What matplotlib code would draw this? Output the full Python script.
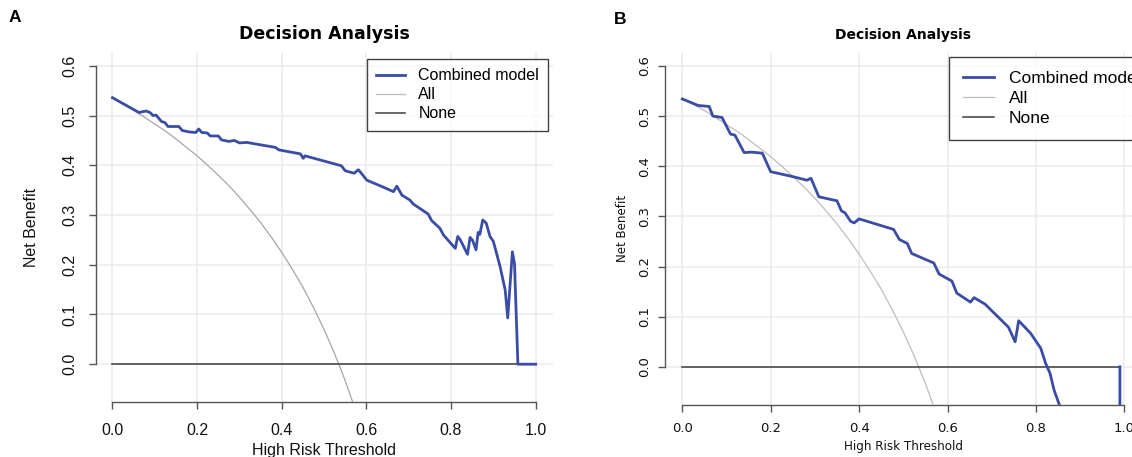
import matplotlib
matplotlib.use("Agg")
import matplotlib.pyplot as plt

# ---------------- data ----------------
thresh_ticks = [0.0, 0.2, 0.4, 0.6, 0.8, 1.0]
nb_ticks = [0.0, 0.1, 0.2, 0.3, 0.4, 0.5, 0.6]
tick_x_labels = ["0.0", "0.2", "0.4", "0.6", "0.8", "1.0"]
tick_y_labels = ["0.0", "0.1", "0.2", "0.3", "0.4", "0.5", "0.6"]

# "All" (treat everyone) net benefit
all_x = [0.0, 0.025, 0.05, 0.075, 0.1, 0.125, 0.15, 0.175, 0.2, 0.225, 0.25, 0.275,
         0.3, 0.325, 0.35, 0.375, 0.4, 0.425, 0.45, 0.475, 0.5, 0.525, 0.55, 0.575, 0.6]
all_y = [0.535, 0.523, 0.511, 0.497, 0.483, 0.469, 0.453, 0.436, 0.419, 0.400, 0.380, 0.359,
         0.336, 0.311, 0.285, 0.256, 0.225, 0.191, 0.155, 0.114, 0.070, 0.021, -0.033, -0.094, -0.163]

# "None" line
none_a_x = [0.0, 1.0]
none_a_y = [0.0, 0.0]
none_b_x = [0.0, 0.99]
none_b_y = [0.0, 0.0]

# Combined model, panel A
comb_a_x = [0, 0.063, 0.072, 0.080, 0.089, 0.096, 0.103, 0.110, 0.116, 0.124,
            0.131, 0.157, 0.165, 0.182, 0.197, 0.204, 0.211, 0.224, 0.231, 0.250,
            0.258, 0.275, 0.288, 0.300, 0.317, 0.351, 0.385, 0.393, 0.444, 0.451,
            0.455, 0.541, 0.550, 0.571, 0.581, 0.590, 0.601, 0.632, 0.664, 0.672,
            0.684, 0.703, 0.711, 0.746, 0.754, 0.774, 0.782, 0.810, 0.816, 0.822,
            0.839, 0.845, 0.851, 0.859, 0.864, 0.868, 0.875, 0.883, 0.892, 0.900,
            0.916, 0.928, 0.934, 0.945, 0.950, 0.958, 1.0]
comb_a_y = [0.536, 0.506, 0.508, 0.509, 0.506, 0.500, 0.501, 0.494, 0.488, 0.486,
            0.478, 0.478, 0.470, 0.467, 0.466, 0.473, 0.466, 0.465, 0.459, 0.459,
            0.451, 0.448, 0.450, 0.445, 0.446, 0.441, 0.436, 0.431, 0.423, 0.414,
            0.419, 0.399, 0.389, 0.384, 0.391, 0.382, 0.370, 0.359, 0.347, 0.358,
            0.340, 0.330, 0.322, 0.302, 0.289, 0.273, 0.260, 0.233, 0.257, 0.250,
            0.221, 0.255, 0.249, 0.230, 0.265, 0.261, 0.290, 0.284, 0.257, 0.247,
            0.196, 0.149, 0.093, 0.226, 0.202, 0.0, 0.0]

# Combined model, panel B
comb_b_x = [0, 0.036, 0.061, 0.069, 0.090, 0.109, 0.119, 0.140, 0.156, 0.181,
            0.200, 0.251, 0.282, 0.291, 0.309, 0.350, 0.360, 0.368, 0.381, 0.389,
            0.400, 0.478, 0.491, 0.509, 0.519, 0.569, 0.581, 0.610, 0.621, 0.652,
            0.660, 0.685, 0.738, 0.753, 0.761, 0.788, 0.811, 0.822, 0.832, 0.841,
            0.854, 0.87, 0.99, 0.99]
comb_b_y = [0.534, 0.521, 0.519, 0.500, 0.497, 0.464, 0.462, 0.427, 0.428, 0.426,
            0.389, 0.379, 0.372, 0.376, 0.339, 0.331, 0.311, 0.307, 0.290, 0.287,
            0.295, 0.274, 0.254, 0.246, 0.226, 0.207, 0.185, 0.171, 0.147, 0.129,
            0.138, 0.125, 0.079, 0.050, 0.092, 0.067, 0.037, 0.007, -0.013, -0.046,
            -0.078, -0.12, -1.0, 0.0]

legend_labels = ["Combined model", "All", "None"]

# ---------------- style ----------------
BLUE = "#3A4DA6"
ALL_A = "#A6A6A6"
ALL_B = "#BEBEBE"
NONE_C = "#3C3C3C"
SPINE = "#555555"
GRID = "#EBEBEB"

W, H = 1132, 457
fig = plt.figure(figsize=(W / 100, H / 100), dpi=100)


def setup(ax, tickfont, tick_size, label_size, xpad, ypad, xlabelpad, ylabelpad):
    ax.set_xlim(-0.04, 1.04)
    ax.set_ylim(-0.076, 0.626)
    ax.set_xticks(thresh_ticks)
    ax.set_yticks(nb_ticks)
    ax.set_xticklabels(tick_x_labels, family=tickfont, fontsize=tick_size)
    ax.set_yticklabels(tick_y_labels, family=tickfont, fontsize=tick_size,
                       rotation=90, va="center")
    for s in ("top", "right"):
        ax.spines[s].set_visible(False)
    for s in ("left", "bottom"):
        ax.spines[s].set_color(SPINE)
        ax.spines[s].set_linewidth(1.0)
    ax.spines["left"].set_bounds(0, 0.6)
    ax.spines["bottom"].set_bounds(0, 1.0)
    ax.tick_params(axis="both", direction="out", length=5, width=1.0,
                   color=SPINE, labelcolor="#111111")
    ax.tick_params(axis="x", pad=xpad)
    ax.tick_params(axis="y", pad=ypad)
    ax.grid(True, color=GRID, linewidth=1.1)
    ax.set_axisbelow(True)
    ax.set_xlabel("High Risk Threshold", family=tickfont, fontsize=label_size,
                  color="#111111", labelpad=xlabelpad)
    ax.set_ylabel("Net Benefit", family=tickfont, fontsize=label_size,
                  color="#111111", labelpad=ylabelpad)


# ---------------- panel A ----------------
axA = fig.add_axes([95.5 / W, 55 / H, 457.1 / W, 349.1 / H])
setup(axA, "Liberation Sans", 11.5, 11.5, 10, 8, 4, 17)
lA1, = axA.plot(comb_a_x, comb_a_y, color=BLUE, lw=2.0, zorder=4, solid_joinstyle="round")
lA2, = axA.plot(all_x, all_y, color=ALL_A, lw=0.9, zorder=3)
lA3, = axA.plot(none_a_x, none_a_y, color=NONE_C, lw=1.1, zorder=3)
axA.set_title("Decision Analysis", family="DejaVu Sans", fontweight="bold",
              fontsize=12.5, pad=10)
legA = axA.legend([lA1, lA2, lA3], legend_labels, loc="upper left",
                  bbox_to_anchor=(0.601, 0.614), bbox_transform=axA.transData,
                  prop={"family": "Liberation Sans", "size": 11.5},
                  frameon=True, fancybox=False, borderpad=0.58, labelspacing=0.26,
                  handlelength=1.8, handletextpad=0.85, borderaxespad=0)
legA.get_frame().set_edgecolor("#111111")
legA.get_frame().set_linewidth(1.0)
legA.legend_handles[1].set_color("#BBBBBB")
fig.text(9 / W, 1 - 18 / H, "A", family="Liberation Sans", fontweight="bold",
         fontsize=12.5, va="center", ha="left")

# ---------------- panel B ----------------
axB = fig.add_axes([664.6 / W, 52 / H, 477.4 / W, 352.2 / H])
setup(axB, "DejaVu Sans", 9.5, 8.6, 7, 5, 4, 6)
lB1, = axB.plot(comb_b_x, comb_b_y, color=BLUE, lw=2.0, zorder=4, solid_joinstyle="round")
lB2, = axB.plot(all_x, all_y, color=ALL_B, lw=0.9, zorder=3)
lB3, = axB.plot(none_b_x, none_b_y, color=NONE_C, lw=1.1, zorder=3)
axB.set_title("Decision Analysis", family="DejaVu Sans", fontweight="bold",
              fontsize=10, pad=10)
legB = axB.legend([lB1, lB2, lB3], legend_labels, loc="upper left",
                  bbox_to_anchor=(0.604, 0.617), bbox_transform=axB.transData,
                  prop={"family": "Liberation Sans", "size": 12.5},
                  frameon=True, fancybox=False, borderpad=0.8, labelspacing=0.27,
                  handlelength=1.78, handletextpad=0.86, borderaxespad=0)
legB.get_frame().set_edgecolor("#111111")
legB.get_frame().set_linewidth(1.0)
legB.set_clip_on(False)
fig.text(614 / W, 1 - 20 / H, "B", family="Liberation Sans", fontweight="bold",
         fontsize=12.5, va="center", ha="left")

fig.savefig("out.png", dpi=100)
